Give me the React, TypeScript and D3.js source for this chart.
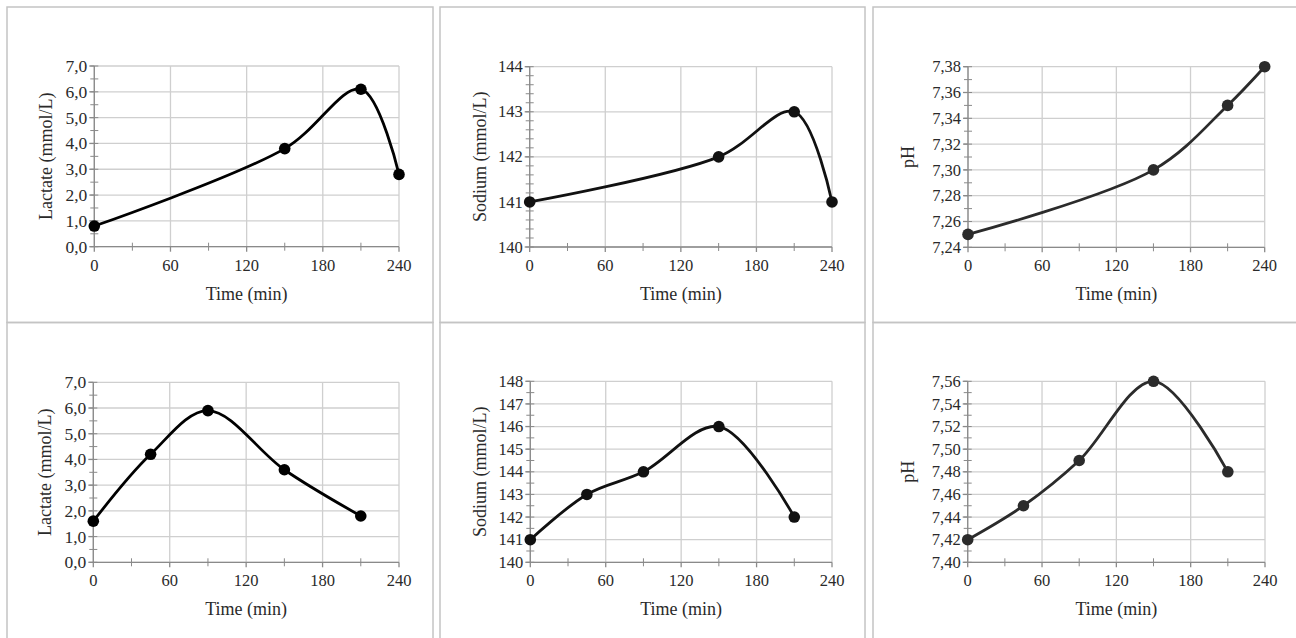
import React from "react";
import * as d3 from "d3";

// ---- data ----
const timeTicks = [0, 60, 120, 180, 240];
const timeMinor = [30, 90, 150, 210];

const lactate1Time = [0, 150, 210, 240];
const lactate1Values = [0.8, 3.8, 6.1, 2.8];
const sodium1Time = [0, 150, 210, 240];
const sodium1Values = [141, 142, 143, 141];
const ph1Time = [0, 150, 210, 240];
const ph1Values = [7.25, 7.3, 7.35, 7.38];

const lactate2Time = [0, 45, 90, 150, 210];
const lactate2Values = [1.6, 4.2, 5.9, 3.6, 1.8];
const sodium2Time = [0, 45, 90, 150, 210];
const sodium2Values = [141, 143, 144, 146, 142];
const ph2Time = [0, 45, 90, 150, 210];
const ph2Values = [7.42, 7.45, 7.49, 7.56, 7.48];

const lactateTicks = [0, 1, 2, 3, 4, 5, 6, 7];
const sodium1Ticks = [140, 141, 142, 143, 144];
const ph1Ticks = [7.24, 7.26, 7.28, 7.3, 7.32, 7.34, 7.36, 7.38];
const sodium2Ticks = [140, 141, 142, 143, 144, 145, 146, 147, 148];
const ph2Ticks = [7.4, 7.42, 7.44, 7.46, 7.48, 7.5, 7.52, 7.54, 7.56];

const FONT = "Liberation Serif, Tinos, Times New Roman, DejaVu Serif, serif";

type PanelProps = {
  x0: number;
  x1: number;
  yTop: number;
  yBot: number;
  times: number[];
  values: number[];
  yTicks: number[];
  minorStep: number;
  decimals: number;
  yTitle: string;
  titleOffset: number;
  color: string;
};

function fmt(v: number, d: number) {
  return v.toFixed(d).replace(".", ",");
}

function Panel(p: PanelProps) {
  const x = d3.scaleLinear().domain([0, 240]).range([p.x0, p.x1]);
  const yMin = p.yTicks[0];
  const yMax = p.yTicks[p.yTicks.length - 1];
  const y = d3.scaleLinear().domain([yMin, yMax]).range([p.yBot, p.yTop]);
  const nMinor = Math.round((yMax - yMin) / p.minorStep);
  const yMinor = d3.range(nMinor + 1).map((i) => yMin + i * p.minorStep);
  const pts: [number, number][] = p.times.map((t, i) => [x(t), y(p.values[i])]);
  const line = d3.line().curve(d3.curveCatmullRom.alpha(0.5))(pts) || "";
  const axisColor = "#8a8a8a";
  const gridColor = "#cfcfcf";
  const textColor = "#2a2a2a";
  const yFont = p.decimals === 1 ? 17.5 : 16.5;
  return (
    <g style={{ fontFamily: FONT }}>
      {p.yTicks.map((t, i) => (
        <line key={"gy" + i} x1={p.x0} x2={p.x1} y1={y(t)} y2={y(t)} stroke={gridColor} strokeWidth={1.3} />
      ))}
      {timeTicks.map((t, i) => (
        <line key={"gx" + i} x1={x(t)} x2={x(t)} y1={p.yTop} y2={p.yBot} stroke={gridColor} strokeWidth={1.3} />
      ))}
      <line x1={p.x0} x2={p.x0} y1={p.yTop} y2={p.yBot} stroke={axisColor} strokeWidth={1.3} />
      <line x1={p.x0} x2={p.x1} y1={p.yBot} y2={p.yBot} stroke={axisColor} strokeWidth={1.3} />
      {yMinor.map((t, i) => (
        <line key={"ym" + i} x1={p.x0 - 4} x2={p.x0 + 4} y1={y(t)} y2={y(t)} stroke={axisColor} strokeWidth={1} />
      ))}
      {p.yTicks.map((t, i) => (
        <line key={"yt" + i} x1={p.x0 - 5} x2={p.x0} y1={y(t)} y2={y(t)} stroke={axisColor} strokeWidth={1.3} />
      ))}
      {p.yTicks.map((t, i) => (
        <text key={"yl" + i} x={p.x0 - 7} y={y(t)} dy="0.34em" textAnchor="end" fontSize={yFont} fill={textColor}>
          {fmt(t, p.decimals)}
        </text>
      ))}
      {timeMinor.map((t, i) => (
        <line key={"xm" + i} x1={x(t)} x2={x(t)} y1={p.yBot - 4} y2={p.yBot + 4} stroke={axisColor} strokeWidth={1} />
      ))}
      {timeTicks.map((t, i) => (
        <line key={"xt" + i} x1={x(t)} x2={x(t)} y1={p.yBot} y2={p.yBot + 5} stroke={axisColor} strokeWidth={1.3} />
      ))}
      {timeTicks.map((t, i) => (
        <text key={"xl" + i} x={x(t)} y={p.yBot + 24} textAnchor="middle" fontSize={16.5} fill={textColor}>
          {t}
        </text>
      ))}
      <text x={(p.x0 + p.x1) / 2} y={p.yBot + 53} textAnchor="middle" fontSize={18} fill={textColor}>
        Time (min)
      </text>
      <text
        transform={`translate(${p.x0 - p.titleOffset},${(p.yTop + p.yBot) / 2}) rotate(-90)`}
        textAnchor="middle"
        fontSize={18}
        fill={textColor}
      >
        {p.yTitle}
      </text>
      <path d={line} fill="none" stroke={p.color} strokeWidth={2.8} />
      {pts.map((q, i) => (
        <circle key={"pt" + i} cx={q[0]} cy={q[1]} r={5.8} fill={p.color} />
      ))}
    </g>
  );
}

export default function App() {
  const border = "#c4c4c4";
  return (
    <svg
      width={1296}
      height={638}
      style={{ position: "absolute", left: 0, top: 0, background: "#fff" }}
    >
      <rect x={0} y={0} width={1296} height={638} fill="#fff" />
      <rect x={7} y={7} width={426} height={315.5} fill="none" stroke={border} strokeWidth={1.5} />
      <rect x={440} y={7} width={425} height={315.5} fill="none" stroke={border} strokeWidth={1.5} />
      <rect x={873} y={7} width={430} height={315.5} fill="none" stroke={border} strokeWidth={1.5} />
      <rect x={7} y={322.5} width={426} height={330} fill="none" stroke={border} strokeWidth={1.5} />
      <rect x={440} y={322.5} width={425} height={330} fill="none" stroke={border} strokeWidth={1.5} />
      <rect x={873} y={322.5} width={430} height={330} fill="none" stroke={border} strokeWidth={1.5} />

      <Panel x0={94.3} x1={399} yTop={66} yBot={246.7} times={lactate1Time} values={lactate1Values}
        yTicks={lactateTicks} minorStep={0.5} decimals={1} yTitle="Lactate (mmol/L)" titleOffset={42} color="#000" />
      <Panel x0={529.7} x1={832} yTop={66.7} yBot={247} times={sodium1Time} values={sodium1Values}
        yTicks={sodium1Ticks} minorStep={0.2} decimals={0} yTitle="Sodium (mmol/L)" titleOffset={44} color="#111" />
      <Panel x0={968} x1={1264.7} yTop={66.7} yBot={247.3} times={ph1Time} values={ph1Values}
        yTicks={ph1Ticks} minorStep={0.01} decimals={2} yTitle="pH" titleOffset={54} color="#2b2b2b" />

      <Panel x0={93.3} x1={399} yTop={382.3} yBot={562.3} times={lactate2Time} values={lactate2Values}
        yTicks={lactateTicks} minorStep={0.5} decimals={1} yTitle="Lactate (mmol/L)" titleOffset={42} color="#000" />
      <Panel x0={530.3} x1={832} yTop={381.3} yBot={562.3} times={sodium2Time} values={sodium2Values}
        yTicks={sodium2Ticks} minorStep={0.5} decimals={0} yTitle="Sodium (mmol/L)" titleOffset={44} color="#111" />
      <Panel x0={967.7} x1={1265} yTop={381.3} yBot={562.3} times={ph2Time} values={ph2Values}
        yTicks={ph2Ticks} minorStep={0.01} decimals={2} yTitle="pH" titleOffset={54} color="#2b2b2b" />
    </svg>
  );
}
